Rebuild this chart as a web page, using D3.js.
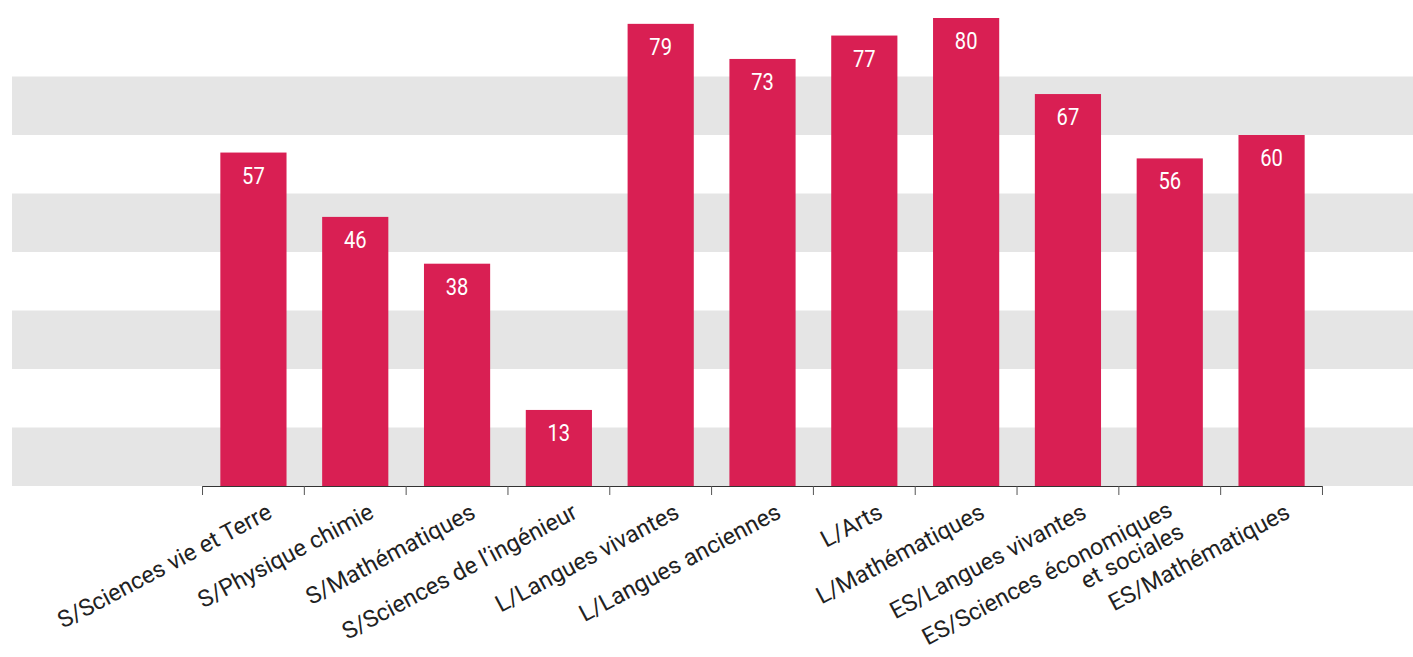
<!DOCTYPE html>
<html>
<head>
<meta charset="utf-8">
<script src="https://cdn.jsdelivr.net/npm/d3@7"></script>
<style>
  html, body { margin: 0; padding: 0; background: #ffffff; }
  svg { display: block; }
</style>
</head>
<body>
<svg id="chart" width="1413" height="657"></svg>
<script>
// ---- data ----
const categories = [
  "S/Sciences vie et Terre",
  "S/Physique chimie",
  "S/Mathématiques",
  "S/Sciences de l’ingénieur",
  "L/Langues vivantes",
  "L/Langues anciennes",
  "L/Arts",
  "L/Mathématiques",
  "ES/Langues vivantes",
  "ES/Sciences économiques\net sociales",
  "ES/Mathématiques"
];
const values = [57, 46, 38, 13, 79, 73, 77, 80, 67, 56, 60];
const yTicks = [0, 10, 20, 30, 40, 50, 60, 70, 80];

// ---- layout ----
const W = 1413, H = 657;
const svg = d3.select("#chart");
const barColor = "#d91f53";
const bandColor = "#e5e5e5";

const x = d3.scaleBand()
  .domain(categories)
  .range([201, 1324])
  .paddingInner(0.35)
  .paddingOuter(0.19);

const y = d3.scaleLinear().domain([0, 80]).range([486, 18]);

// alternating grey bands
const bandPairs = d3.pairs(yTicks);
svg.append("g").selectAll("rect")
  .data(bandPairs.filter((d, i) => i % 2 === 0))
  .join("rect")
  .attr("x", 12)
  .attr("width", W - 12)
  .attr("y", d => y(d[1]))
  .attr("height", d => y(d[0]) - y(d[1]))
  .attr("fill", bandColor);

// bars
svg.append("g").selectAll("rect")
  .data(categories)
  .join("rect")
  .attr("x", d => x(d))
  .attr("width", x.bandwidth())
  .attr("y", (d, i) => y(values[i]))
  .attr("height", (d, i) => y(0) - y(values[i]))
  .attr("fill", barColor);

// value labels (condensed look)
svg.append("g").selectAll("text")
  .data(categories)
  .join("text")
  .attr("transform", (d, i) => `translate(${x(d) + x.bandwidth() / 2},${y(values[i]) + 31}) scale(0.84,1)`)
  .attr("text-anchor", "middle")
  .attr("fill", "#ffffff")
  .style("font-family", "Roboto, sans-serif")
  .style("font-size", "24px")
  .text((d, i) => values[i]);

// axis line and ticks at band boundaries
const step = x.step();
const bounds = categories.map(d => x(d) - step * x.paddingInner() / 2);
bounds.push(x(categories[categories.length - 1]) + x.bandwidth() + step * x.paddingInner() / 2);
const axisG = svg.append("g");
axisG.append("line")
  .attr("x1", bounds[0]).attr("x2", bounds[bounds.length - 1])
  .attr("y1", y(0) + 0.5).attr("y2", y(0) + 0.5)
  .attr("stroke", "#333").attr("stroke-width", 1);
axisG.selectAll("line.tick")
  .data(bounds)
  .join("line")
  .attr("class", "tick")
  .attr("x1", d => d).attr("x2", d => d)
  .attr("y1", y(0)).attr("y2", y(0) + 9)
  .attr("stroke", "#555").attr("stroke-width", 1);

// category labels, rotated
const lab = svg.append("g").selectAll("text")
  .data(categories)
  .join("text")
  .attr("transform", d => `translate(${x(d) + x.bandwidth() / 2 + 20},${y(0) + 31}) rotate(-28)`)
  .attr("text-anchor", "end")
  .attr("fill", "#222")
  .style("font-family", "Roboto, 'Liberation Sans', sans-serif")
  .style("font-size", "23.5px");

lab.each(function(d) {
  const lines = d.split("\n");
  const t = d3.select(this);
  lines.forEach((ln, j) => {
    t.append("tspan")
      .attr("x", lines.length > 1 ? -13 : 0)
      .attr("dy", j === 0 ? (lines.length > 1 ? "-0.4em" : "0") : "1.05em")
      .text(ln);
  });
});
</script>
</body>
</html>
